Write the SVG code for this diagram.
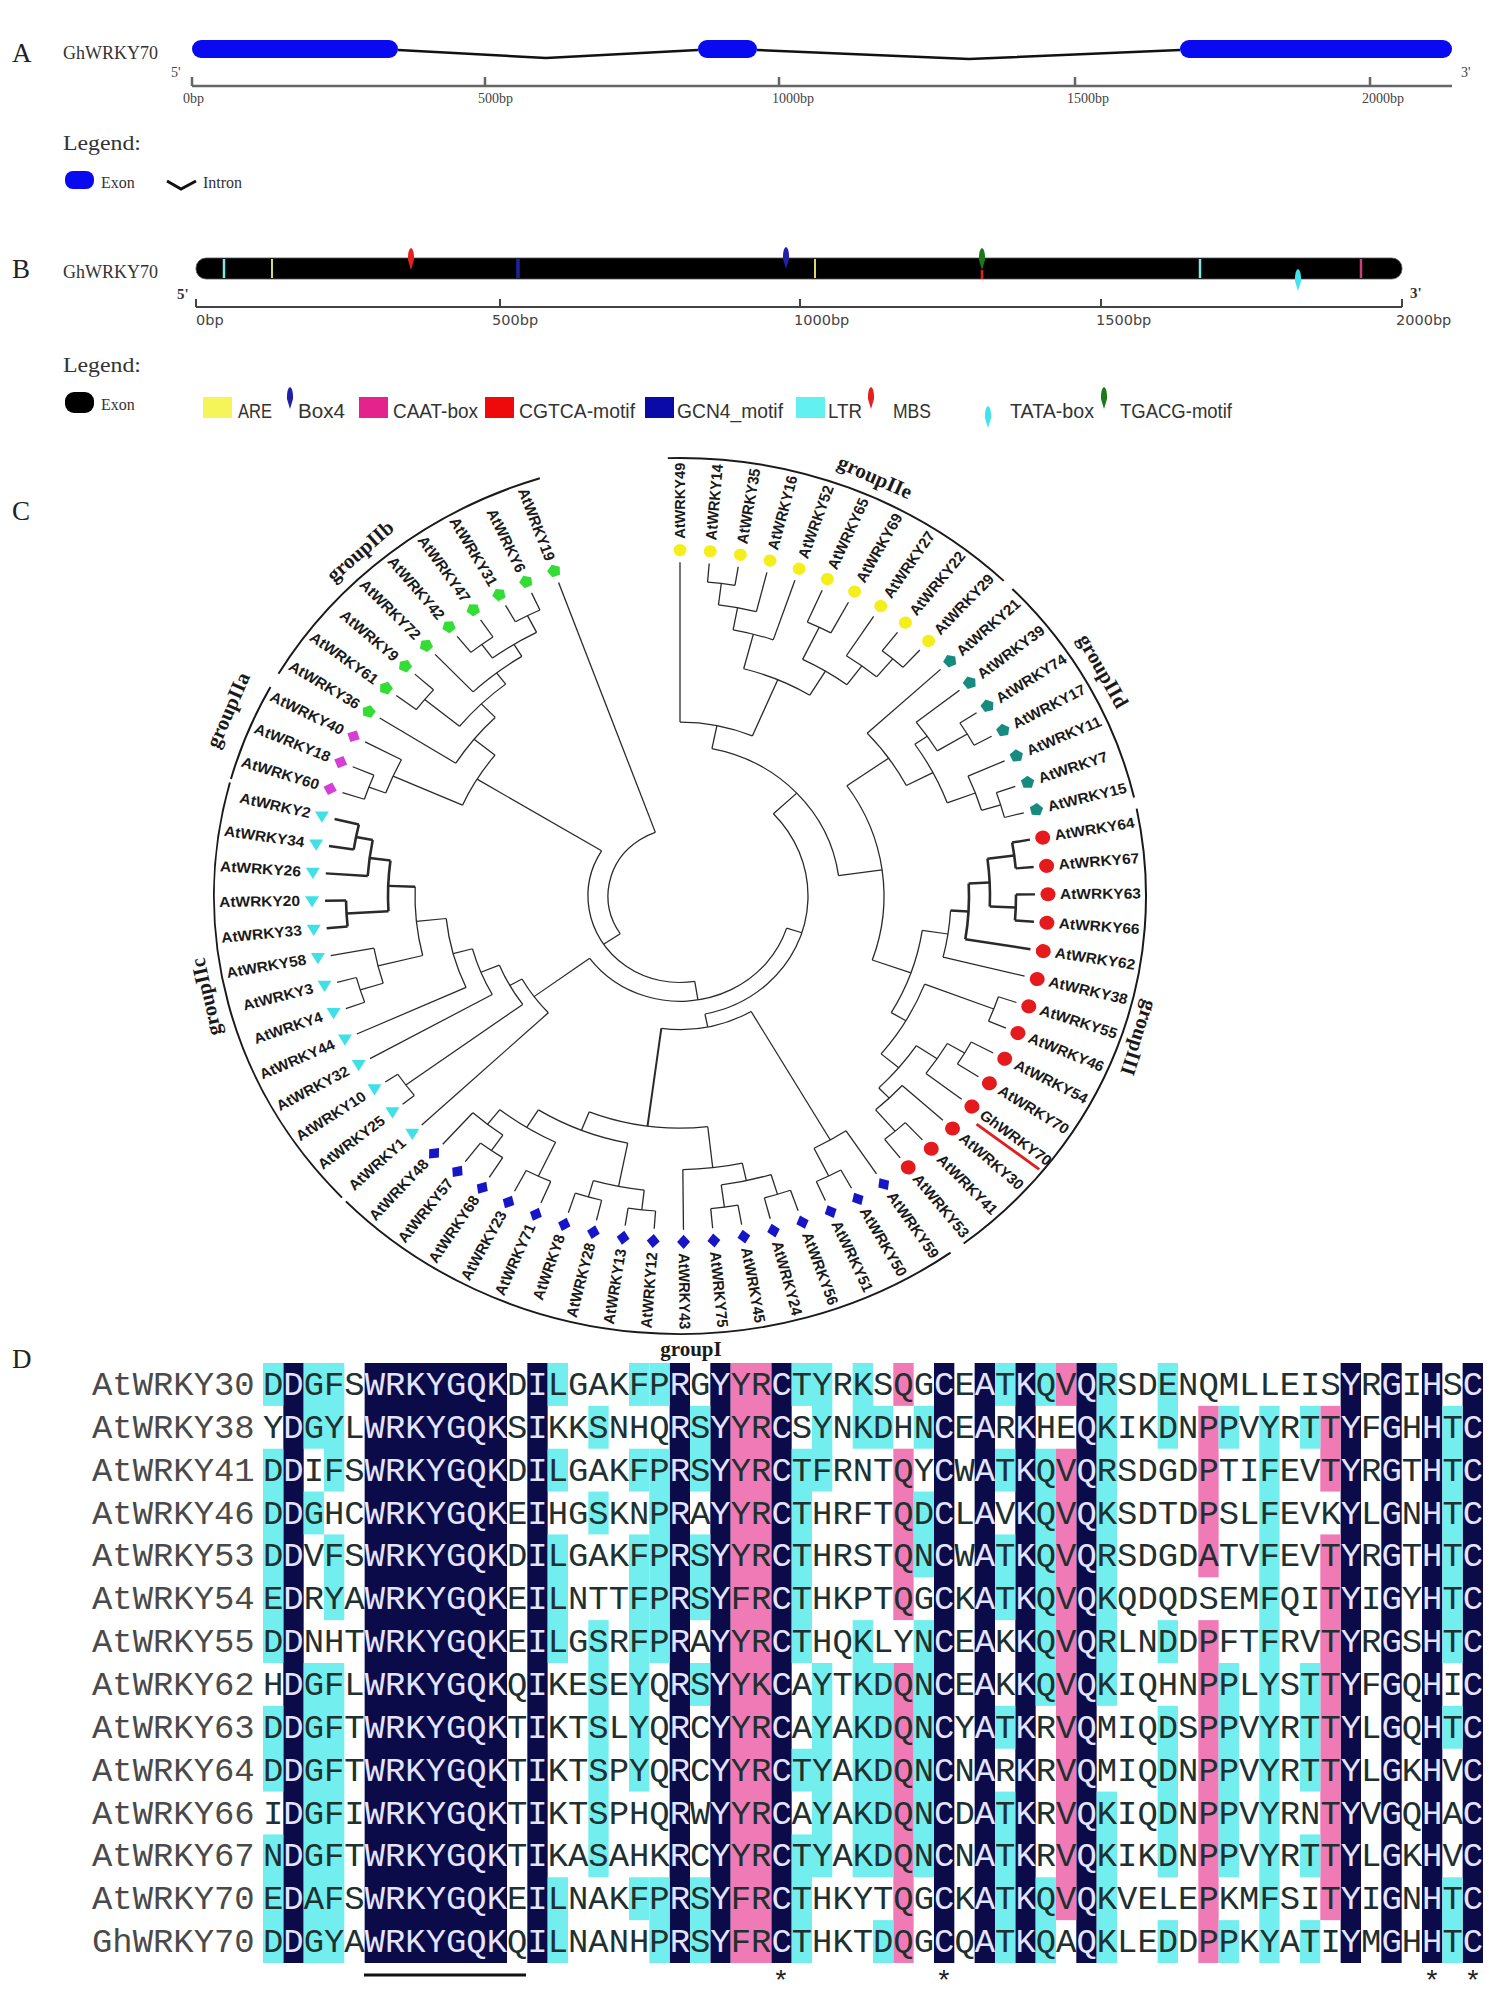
<svg xmlns="http://www.w3.org/2000/svg" width="1489" height="1998" viewBox="0 0 1489 1998">
<defs>
<style>
.pl{font-family:"Liberation Serif","Times New Roman",serif;font-size:27px;fill:#222}
.gn{font-family:"Liberation Serif","Times New Roman",serif;font-size:18px;fill:#333}
.tk{font-family:"Liberation Serif","Times New Roman",serif;font-size:14px;fill:#444}
.tkb{font-family:"DejaVu Sans",sans-serif;font-size:14.5px;fill:#444}
.pr{font-family:"Liberation Serif",serif;font-size:15px;font-weight:bold;fill:#333}
.lg{font-family:"Liberation Serif","Times New Roman",serif;font-size:22px;fill:#333}
.lgs{font-family:"Liberation Serif","Times New Roman",serif;font-size:16px;fill:#333}
.li{font-family:"Liberation Sans",Arial,sans-serif;font-size:20px;fill:#333}
.br{fill:none;stroke:#2a2a2a;stroke-width:1.3}
.bb{stroke-width:2.6}
.ga{fill:none;stroke:#1a1a1a;stroke-width:2}
.lf{font-family:"Liberation Sans",Arial,sans-serif;font-size:15.5px;font-weight:bold;fill:#1a1a1a}
.e{text-anchor:end}
.grp{font-family:"Liberation Serif","Times New Roman",serif;font-size:21px;font-weight:bold;fill:#1a1a1a;text-anchor:middle}
.sq{font-family:"Liberation Mono","Courier New",monospace;font-size:33.88px;fill:#203030}
.nm{font-family:"Liberation Mono","Courier New",monospace;font-size:33.88px;fill:#4a4a4a}
.w{fill:#e4e4ff}
.n{fill:#0b0b4a}.c{fill:#72eeee}.p{fill:#f07ab6}
.ex{fill:#0a0af0}
.ax{stroke:#666;stroke-width:2.5;fill:none}
</style>
<circle id="mY" r="6.5" fill="#f4ee1a"/>
<circle id="mR" r="7.5" fill="#e41a1c"/>
<path id="mB" d="M0-7.5L6.5 0L0 7.5L-6.5 0Z" fill="#1616c8"/>
<path id="mC" d="M-7-5H7L0 7Z" fill="#3fe0e6"/>
<path id="mG" d="M0-7L6.7-2.2L4.1 5.7H-4.1L-6.7-2.2Z" fill="#33dd33"/>
<path id="mT" d="M0-7L6.7-2.2L4.1 5.7H-4.1L-6.7-2.2Z" fill="#178b80"/>
<path id="mM" d="M0-7L7 0L0 7L-7 0Z" fill="#d43fd4"/>
<path id="dr" d="M0 0C2.8 1 3.2 8 3 12L0 22L-3 12C-3.2 8-2.8 1 0 0Z"/>
</defs>
<rect width="1489" height="1998" fill="#fff"/>

<g id="panelA">
<text class="pl" x="12" y="62">A</text>
<text class="gn" x="63" y="59">GhWRKY70</text>
<g id="exons-A">
<rect class="ex" x="192" y="40" width="206" height="18" rx="9"/>
<rect class="ex" x="698" y="40" width="59" height="18" rx="9"/>
<rect class="ex" x="1180" y="40" width="272" height="18" rx="9"/>
</g>
<g id="introns-A" fill="none" stroke="#111" stroke-width="2.5">
<polyline points="398,50 546,58 698,50"/>
<polyline points="757,50 969,59 1180,50"/>
</g>
<text class="tk" x="171" y="77">5'</text>
<text class="tk" x="1461" y="77">3'</text>
<path class="ax" d="M192 86H1452M192 77V86M485 77V86M779 77V86M1075 77V86M1370 77V86"/>
<text class="tk" x="183" y="103">0bp</text>
<text class="tk" x="478" y="103">500bp</text>
<text class="tk" x="772" y="103">1000bp</text>
<text class="tk" x="1067" y="103">1500bp</text>
<text class="tk" x="1362" y="103">2000bp</text>
<text class="lg" x="63" y="150" textLength="78" lengthAdjust="spacingAndGlyphs">Legend:</text>
<rect class="ex" x="65" y="171" width="29" height="18" rx="8"/>
<text class="lgs" x="101" y="188">Exon</text>
<path d="M167 181L181 189L196 181" fill="none" stroke="#111" stroke-width="3"/>
<text class="lgs" x="203" y="188">Intron</text>
</g>

<g id="panelB">
<text class="pl" x="12" y="278">B</text>
<text class="gn" x="63" y="278">GhWRKY70</text>
<rect x="196" y="258" width="1206" height="21" rx="10" fill="#000" stroke="#555" stroke-width="0.8"/>
<g id="motifs-B" stroke-width="2.5">
<path d="M224 259V278" stroke="#7fe5e5"/>
<path d="M272 259V278" stroke="#d8d870" stroke-width="2"/>
<path d="M518 259V278" stroke="#2020a0" stroke-width="3.5"/>
<path d="M815 259V278" stroke="#d8d870" stroke-width="2"/>
<path d="M982 270V279" stroke="#e02020"/>
<path d="M1200 259V278" stroke="#7fe5e5"/>
<path d="M1361 259V278" stroke="#c8407a"/>
<use href="#dr" x="411" y="248" fill="#e42020"/>
<use href="#dr" x="786" y="247" fill="#2020a8"/>
<use href="#dr" x="982" y="248" fill="#1a7a1a"/>
<use href="#dr" x="1298" y="269" fill="#40e4ea"/>
</g>
<text class="pr" x="177" y="299">5'</text>
<text class="pr" x="1410" y="298">3'</text>
<path d="M196 307H1402M196 299V307M500 299V307M800 299V307M1101 299V307M1402 299V307" stroke="#444" stroke-width="2" fill="none"/>
<text class="tkb" x="196" y="325">0bp</text>
<text class="tkb" x="492" y="325">500bp</text>
<text class="tkb" x="794" y="325">1000bp</text>
<text class="tkb" x="1096" y="325">1500bp</text>
<text class="tkb" x="1396" y="325">2000bp</text>
<text class="lg" x="63" y="372" textLength="78" lengthAdjust="spacingAndGlyphs">Legend:</text>
<rect x="65" y="392" width="29" height="21" rx="9" fill="#000"/>
<text class="lgs" x="101" y="410">Exon</text>
<g id="legend-B">
<rect x="203" y="397" width="29" height="21" fill="#f5f55a"/>
<text class="li" x="238" y="418" textLength="34" lengthAdjust="spacingAndGlyphs">ARE</text>
<use href="#dr" x="290" y="387" fill="#2020a8"/>
<text class="li" x="298" y="418" textLength="47" lengthAdjust="spacingAndGlyphs">Box4</text>
<rect x="359" y="397" width="29" height="21" fill="#e4248c"/>
<text class="li" x="393" y="418" textLength="85" lengthAdjust="spacingAndGlyphs">CAAT-box</text>
<rect x="485" y="397" width="29" height="21" fill="#ee0a0a"/>
<text class="li" x="519" y="418" textLength="116" lengthAdjust="spacingAndGlyphs">CGTCA-motif</text>
<rect x="645" y="397" width="29" height="21" fill="#0a0aa8"/>
<text class="li" x="677" y="418" textLength="106" lengthAdjust="spacingAndGlyphs">GCN4_motif</text>
<rect x="796" y="397" width="29" height="21" fill="#62f0f0"/>
<text class="li" x="828" y="418" textLength="34" lengthAdjust="spacingAndGlyphs">LTR</text>
<use href="#dr" x="871" y="387" fill="#e42020"/>
<text class="li" x="893" y="418" textLength="38" lengthAdjust="spacingAndGlyphs">MBS</text>
<use href="#dr" x="988" y="406" fill="#40e4ea"/>
<text class="li" x="1010" y="418" textLength="84" lengthAdjust="spacingAndGlyphs">TATA-box</text>
<use href="#dr" x="1104" y="387" fill="#1a7a1a"/>
<text class="li" x="1120" y="418" textLength="112" lengthAdjust="spacingAndGlyphs">TGACG-motif</text>
</g>
</g>

<g id="panelC">
<text class="pl" x="12" y="520">C</text>
<g id="tree" transform="translate(680 896) scale(1 0.94)">
<g id="connectors" class="br">
<circle r="335" pathLength="360" stroke-dasharray="4.72 999" transform="rotate(-85.28)"/>
<circle r="312" pathLength="360" stroke-dasharray="7.09 999" transform="rotate(-82.92)"/>
<circle r="288" pathLength="360" stroke-dasharray="8.26 999" transform="rotate(-79.37)"/>
<circle r="318" pathLength="360" stroke-dasharray="4.72 999" transform="rotate(-66.39)"/>
<circle r="330" pathLength="360" stroke-dasharray="4.72 999" transform="rotate(-52.22)"/>
<circle r="305" pathLength="360" stroke-dasharray="7.08 999" transform="rotate(-56.94)"/>
<circle r="280" pathLength="360" stroke-dasharray="10.63 999" transform="rotate(-64.03)"/>
<circle r="250" pathLength="360" stroke-dasharray="16.53 999" transform="rotate(-75.24)"/>
<circle r="185" pathLength="360" stroke-dasharray="23.02 999" transform="rotate(-90)"/>
<circle r="335" pathLength="360" stroke-dasharray="4.72 999" transform="rotate(-33.33)"/>
<circle r="300" pathLength="360" stroke-dasharray="7.09 999" transform="rotate(-38.06)"/>
<circle r="335" pathLength="360" stroke-dasharray="4.73 999" transform="rotate(-19.17)"/>
<circle r="315" pathLength="360" stroke-dasharray="7.08 999" transform="rotate(-23.89)"/>
<circle r="285" pathLength="360" stroke-dasharray="14.16 999" transform="rotate(-34.51)"/>
<circle r="255" pathLength="360" stroke-dasharray="15.35 999" transform="rotate(-42.78)"/>
<circle class="bb" r="337" pathLength="360" stroke-dasharray="4.72 999" transform="rotate(-9.72)"/>
<circle class="bb" r="336" pathLength="360" stroke-dasharray="4.72 999" transform="rotate(-0.28)"/>
<circle class="bb" r="310" pathLength="360" stroke-dasharray="9.44 999" transform="rotate(-7.36)"/>
<circle class="bb" r="289" pathLength="360" stroke-dasharray="11.81 999" transform="rotate(-2.64)"/>
<circle r="271" pathLength="360" stroke-dasharray="10.63 999" transform="rotate(3.26)"/>
<circle r="336" pathLength="360" stroke-dasharray="4.72 999" transform="rotate(18.61)"/>
<circle r="330" pathLength="360" stroke-dasharray="4.72 999" transform="rotate(28.06)"/>
<circle r="310" pathLength="360" stroke-dasharray="7.08 999" transform="rotate(30.42)"/>
<circle r="330" pathLength="360" stroke-dasharray="4.73 999" transform="rotate(46.94)"/>
<circle r="300" pathLength="360" stroke-dasharray="7.09 999" transform="rotate(42.22)"/>
<circle r="285" pathLength="360" stroke-dasharray="11.81 999" transform="rotate(33.96)"/>
<circle r="262" pathLength="360" stroke-dasharray="18.89 999" transform="rotate(20.97)"/>
<circle r="245" pathLength="360" stroke-dasharray="21.84 999" transform="rotate(8.58)"/>
<circle r="204" pathLength="360" stroke-dasharray="54.6 999" transform="rotate(-35.1)"/>
<circle r="160" pathLength="360" stroke-dasharray="70.69 999" transform="rotate(-78.49)"/>
<circle r="333" pathLength="360" stroke-dasharray="4.72 999" transform="rotate(61.11)"/>
<circle r="300" pathLength="360" stroke-dasharray="7.08 999" transform="rotate(56.39)"/>
<circle r="332" pathLength="360" stroke-dasharray="4.72 999" transform="rotate(70.56)"/>
<circle r="334" pathLength="360" stroke-dasharray="4.72 999" transform="rotate(80)"/>
<circle r="310" pathLength="360" stroke-dasharray="9.44 999" transform="rotate(72.92)"/>
<circle r="291" pathLength="360" stroke-dasharray="11.8 999" transform="rotate(77.64)"/>
<circle r="336" pathLength="360" stroke-dasharray="4.72 999" transform="rotate(94.17)"/>
<circle r="333" pathLength="360" stroke-dasharray="4.72 999" transform="rotate(103.61)"/>
<circle r="315" pathLength="360" stroke-dasharray="9.44 999" transform="rotate(96.53)"/>
<circle r="330" pathLength="360" stroke-dasharray="4.72 999" transform="rotate(113.06)"/>
<circle r="330" pathLength="360" stroke-dasharray="4.72 999" transform="rotate(122.5)"/>
<circle r="310" pathLength="360" stroke-dasharray="7.08 999" transform="rotate(124.86)"/>
<circle r="290" pathLength="360" stroke-dasharray="12.98 999" transform="rotate(115.42)"/>
<circle r="268" pathLength="360" stroke-dasharray="20.66 999" transform="rotate(101.25)"/>
<circle r="247" pathLength="360" stroke-dasharray="28.04 999" transform="rotate(83.54)"/>
<circle r="142" pathLength="360" stroke-dasharray="37.63 999" transform="rotate(59.93)"/>
<circle r="128" pathLength="360" stroke-dasharray="121.89 999" transform="rotate(-43.14)"/>
<circle r="335" pathLength="360" stroke-dasharray="4.72 999" transform="rotate(160.28)"/>
<circle r="311" pathLength="360" stroke-dasharray="7.08 999" transform="rotate(162.64)"/>
<circle class="bb" r="334" pathLength="360" stroke-dasharray="4.73 999" transform="rotate(174.44)"/>
<circle class="bb" r="330" pathLength="360" stroke-dasharray="4.72 999" transform="rotate(188.61)"/>
<circle class="bb" r="313" pathLength="360" stroke-dasharray="7.08 999" transform="rotate(183.89)"/>
<circle class="bb" r="292" pathLength="360" stroke-dasharray="10.62 999" transform="rotate(176.81)"/>
<circle r="265" pathLength="360" stroke-dasharray="15.94 999" transform="rotate(166.18)"/>
<circle r="235" pathLength="360" stroke-dasharray="18.59 999" transform="rotate(155.56)"/>
<circle r="215" pathLength="360" stroke-dasharray="14.03 999" transform="rotate(150.83)"/>
<circle r="340" pathLength="360" stroke-dasharray="4.72 999" transform="rotate(141.39)"/>
<circle r="195" pathLength="360" stroke-dasharray="14.1 999" transform="rotate(143.75)"/>
<circle r="181" pathLength="360" stroke-dasharray="14.13 999" transform="rotate(136.67)"/>
<circle r="112" pathLength="360" stroke-dasharray="125.94 999" transform="rotate(17.8)"/>
<circle r="332" pathLength="360" stroke-dasharray="4.72 999" transform="rotate(198.06)"/>
<circle r="314" pathLength="360" stroke-dasharray="7.08 999" transform="rotate(200.42)"/>
<circle r="335" pathLength="360" stroke-dasharray="4.72 999" transform="rotate(240.56)"/>
<circle r="333" pathLength="360" stroke-dasharray="4.72 999" transform="rotate(231.11)"/>
<circle r="315" pathLength="360" stroke-dasharray="9.45 999" transform="rotate(233.47)"/>
<circle r="300" pathLength="360" stroke-dasharray="11.8 999" transform="rotate(226.39)"/>
<circle r="330" pathLength="360" stroke-dasharray="4.73 999" transform="rotate(216.94)"/>
<circle r="285" pathLength="360" stroke-dasharray="12.98 999" transform="rotate(219.31)"/>
<circle r="265" pathLength="360" stroke-dasharray="13.58 999" transform="rotate(212.22)"/>
<circle r="238" pathLength="360" stroke-dasharray="15.05 999" transform="rotate(203.96)"/>
<circle r="92" pathLength="360" stroke-dasharray="130.72 999" transform="rotate(80.77)"/>
<circle r="72" pathLength="360" stroke-dasharray="103.87 999" transform="rotate(146.13)"/>
<path transform="rotate(7.08)" d="M0-312V-335"/>
<path transform="rotate(10.63)" d="M0-288V-312"/>
<path transform="rotate(14.76)" d="M0-250V-288"/>
<path transform="rotate(25.97)" d="M0-280V-318"/>
<path transform="rotate(40.14)" d="M0-305V-330"/>
<path transform="rotate(36.6)" d="M0-280V-305"/>
<path transform="rotate(31.29)" d="M0-250V-280"/>
<path transform="rotate(23.02)" d="M0-185V-250"/>
<path transform="rotate(11.51)" d="M0-160V-185"/>
<path transform="rotate(59.03)" d="M0-300V-335"/>
<path transform="rotate(55.49)" d="M0-285V-300"/>
<path transform="rotate(73.19)" d="M0-315V-335"/>
<path transform="rotate(69.65)" d="M0-285V-315"/>
<path transform="rotate(62.57)" d="M0-255V-285"/>
<path transform="rotate(54.9)" d="M0-204V-255"/>
<path class="bb" transform="rotate(82.64)" d="M0-310V-337"/>
<path class="bb" transform="rotate(92.08)" d="M0-310V-336"/>
<path class="bb" transform="rotate(87.36)" d="M0-289V-310"/>
<path class="bb" transform="rotate(93.26)" d="M0-271V-289"/>
<path transform="rotate(98.58)" d="M0-245V-271"/>
<path transform="rotate(110.97)" d="M0-262V-336"/>
<path transform="rotate(120.42)" d="M0-310V-330"/>
<path transform="rotate(123.96)" d="M0-285V-310"/>
<path transform="rotate(139.31)" d="M0-300V-330"/>
<path transform="rotate(135.77)" d="M0-285V-300"/>
<path transform="rotate(129.86)" d="M0-262V-285"/>
<path transform="rotate(120.42)" d="M0-245V-262"/>
<path transform="rotate(109.5)" d="M0-204V-245"/>
<path transform="rotate(82.2)" d="M0-160V-204"/>
<path transform="rotate(46.86)" d="M0-128V-160"/>
<path transform="rotate(153.47)" d="M0-300V-333"/>
<path transform="rotate(149.93)" d="M0-142V-300"/>
<path transform="rotate(162.92)" d="M0-310V-332"/>
<path transform="rotate(172.36)" d="M0-310V-334"/>
<path transform="rotate(167.64)" d="M0-291V-310"/>
<path transform="rotate(173.54)" d="M0-247V-291"/>
<path transform="rotate(186.53)" d="M0-315V-336"/>
<path transform="rotate(195.97)" d="M0-315V-333"/>
<path transform="rotate(191.25)" d="M0-268V-315"/>
<path transform="rotate(205.42)" d="M0-290V-330"/>
<path transform="rotate(214.86)" d="M0-310V-330"/>
<path transform="rotate(218.4)" d="M0-290V-310"/>
<path transform="rotate(211.91)" d="M0-268V-290"/>
<path transform="rotate(201.58)" d="M0-247V-268"/>
<path transform="rotate(187.56)" d="M0-142V-247" stroke-width="2"/>
<path transform="rotate(168.75)" d="M0-128V-142"/>
<path transform="rotate(107.8)" d="M0-112V-128"/>
<path transform="rotate(252.64)" d="M0-311V-335"/>
<path transform="rotate(256.18)" d="M0-265V-311"/>
<path class="bb" transform="rotate(266.81)" d="M0-292V-334"/>
<path class="bb" transform="rotate(280.97)" d="M0-313V-330"/>
<path class="bb" transform="rotate(277.43)" d="M0-292V-313"/>
<path class="bb" transform="rotate(272.12)" d="M0-265V-292"/>
<path transform="rotate(264.15)" d="M0-235V-265"/>
<path transform="rotate(254.86)" d="M0-215V-235"/>
<path transform="rotate(247.85)" d="M0-195V-215"/>
<path transform="rotate(233.75)" d="M0-195V-340"/>
<path transform="rotate(240.8)" d="M0-181V-195"/>
<path transform="rotate(233.74)" d="M0-112V-181"/>
<path transform="rotate(170.77)" d="M0-92V-112"/>
<path transform="rotate(290.42)" d="M0-314V-332"/>
<path transform="rotate(293.96)" d="M0-238V-314"/>
<path transform="rotate(332.92)" d="M0-315V-335"/>
<path transform="rotate(323.47)" d="M0-315V-333"/>
<path transform="rotate(328.19)" d="M0-300V-315"/>
<path transform="rotate(322.29)" d="M0-285V-300"/>
<path transform="rotate(309.31)" d="M0-285V-330"/>
<path transform="rotate(315.8)" d="M0-265V-285"/>
<path transform="rotate(309.01)" d="M0-238V-265"/>
<path transform="rotate(301.49)" d="M0-92V-238"/>
<path transform="rotate(236.13)" d="M0-72V-92"/>
<path transform="rotate(0)" d="M0-185V-355"/>
<path transform="rotate(4.72)" d="M0-335V-355"/>
<path transform="rotate(9.44)" d="M0-335V-355"/>
<path transform="rotate(14.17)" d="M0-312V-355"/>
<path transform="rotate(18.89)" d="M0-288V-355"/>
<path transform="rotate(23.61)" d="M0-318V-355"/>
<path transform="rotate(28.33)" d="M0-318V-355"/>
<path transform="rotate(33.06)" d="M0-305V-355"/>
<path transform="rotate(37.78)" d="M0-330V-355"/>
<path transform="rotate(42.5)" d="M0-330V-355"/>
<path transform="rotate(47.22)" d="M0-255V-355"/>
<path transform="rotate(51.94)" d="M0-300V-355"/>
<path transform="rotate(56.67)" d="M0-335V-355"/>
<path transform="rotate(61.39)" d="M0-335V-355"/>
<path transform="rotate(66.11)" d="M0-315V-355"/>
<path transform="rotate(70.83)" d="M0-335V-355"/>
<path transform="rotate(75.56)" d="M0-335V-355"/>
<path class="bb" transform="rotate(80.28)" d="M0-337V-355"/>
<path class="bb" transform="rotate(85)" d="M0-337V-355"/>
<path class="bb" transform="rotate(89.72)" d="M0-336V-355"/>
<path class="bb" transform="rotate(94.44)" d="M0-336V-355"/>
<path class="bb" transform="rotate(99.17)" d="M0-289V-355"/>
<path transform="rotate(103.89)" d="M0-271V-355"/>
<path transform="rotate(108.61)" d="M0-336V-355"/>
<path transform="rotate(113.33)" d="M0-336V-355"/>
<path transform="rotate(118.06)" d="M0-330V-355"/>
<path transform="rotate(122.78)" d="M0-330V-355"/>
<path transform="rotate(127.5)" d="M0-310V-355"/>
<path transform="rotate(132.22)" d="M0-300V-355"/>
<path transform="rotate(136.94)" d="M0-330V-355"/>
<path transform="rotate(141.67)" d="M0-330V-355"/>
<path transform="rotate(146.39)" d="M0-300V-355"/>
<path transform="rotate(151.11)" d="M0-333V-355"/>
<path transform="rotate(155.83)" d="M0-333V-355"/>
<path transform="rotate(160.56)" d="M0-332V-355"/>
<path transform="rotate(165.28)" d="M0-332V-355"/>
<path transform="rotate(170)" d="M0-334V-355"/>
<path transform="rotate(174.72)" d="M0-334V-355"/>
<path transform="rotate(179.44)" d="M0-291V-355"/>
<path transform="rotate(184.17)" d="M0-336V-355"/>
<path transform="rotate(188.89)" d="M0-336V-355"/>
<path transform="rotate(193.61)" d="M0-333V-355"/>
<path transform="rotate(198.33)" d="M0-333V-355"/>
<path transform="rotate(203.06)" d="M0-330V-355"/>
<path transform="rotate(207.78)" d="M0-330V-355"/>
<path transform="rotate(212.5)" d="M0-330V-355"/>
<path transform="rotate(217.22)" d="M0-330V-355"/>
<path transform="rotate(221.94)" d="M0-310V-355"/>
<path transform="rotate(226.67)" d="M0-181V-355"/>
<path transform="rotate(231.39)" d="M0-340V-355"/>
<path transform="rotate(236.11)" d="M0-340V-355"/>
<path transform="rotate(240.83)" d="M0-215V-355"/>
<path transform="rotate(245.56)" d="M0-235V-355"/>
<path transform="rotate(250.28)" d="M0-335V-355"/>
<path transform="rotate(255)" d="M0-335V-355"/>
<path transform="rotate(259.72)" d="M0-311V-355"/>
<path class="bb" transform="rotate(264.44)" d="M0-334V-355"/>
<path class="bb" transform="rotate(269.17)" d="M0-334V-355"/>
<path class="bb" transform="rotate(273.89)" d="M0-313V-355"/>
<path class="bb" transform="rotate(278.61)" d="M0-330V-355"/>
<path class="bb" transform="rotate(283.33)" d="M0-330V-355"/>
<path transform="rotate(288.06)" d="M0-332V-355"/>
<path transform="rotate(292.78)" d="M0-332V-355"/>
<path transform="rotate(297.5)" d="M0-314V-355"/>
<path transform="rotate(302.22)" d="M0-265V-355"/>
<path transform="rotate(306.94)" d="M0-330V-355"/>
<path transform="rotate(311.67)" d="M0-330V-355"/>
<path transform="rotate(316.39)" d="M0-300V-355"/>
<path transform="rotate(321.11)" d="M0-333V-355"/>
<path transform="rotate(325.83)" d="M0-333V-355"/>
<path transform="rotate(330.56)" d="M0-335V-355"/>
<path transform="rotate(335.28)" d="M0-335V-355"/>
<path transform="rotate(340)" d="M0-72V-355"/>
</g>
<g id="group-arcs" class="ga">
<circle r="466" pathLength="360" stroke-dasharray="45.5 999" transform="rotate(-91.5)"/>
<circle r="466" pathLength="360" stroke-dasharray="31.5 999" transform="rotate(-44.5)"/>
<circle r="466" pathLength="360" stroke-dasharray="64 999" transform="rotate(-11.5)"/>
<circle r="466" pathLength="360" stroke-dasharray="81.3 999" transform="rotate(54.5)"/>
<circle r="466" pathLength="360" stroke-dasharray="58.5 999" transform="rotate(136.5)"/>
<circle r="466" pathLength="360" stroke-dasharray="13 999" transform="rotate(195.5)"/>
<circle r="466" pathLength="360" stroke-dasharray="42 999" transform="rotate(210.5)"/>
</g>
<g id="leaves">
<g id="leaf-AtWRKY49" transform="rotate(0)"><use href="#mY" y="-368"/><text class="lf" transform="rotate(-90) translate(380 5)">AtWRKY49</text></g>
<g id="leaf-AtWRKY14" transform="rotate(4.72)"><use href="#mY" y="-368"/><text class="lf" transform="rotate(-90) translate(380 5)">AtWRKY14</text></g>
<g id="leaf-AtWRKY35" transform="rotate(9.44)"><use href="#mY" y="-368"/><text class="lf" transform="rotate(-90) translate(380 5)">AtWRKY35</text></g>
<g id="leaf-AtWRKY16" transform="rotate(14.17)"><use href="#mY" y="-368"/><text class="lf" transform="rotate(-90) translate(380 5)">AtWRKY16</text></g>
<g id="leaf-AtWRKY52" transform="rotate(18.89)"><use href="#mY" y="-368"/><text class="lf" transform="rotate(-90) translate(380 5)">AtWRKY52</text></g>
<g id="leaf-AtWRKY65" transform="rotate(23.61)"><use href="#mY" y="-368"/><text class="lf" transform="rotate(-90) translate(380 5)">AtWRKY65</text></g>
<g id="leaf-AtWRKY69" transform="rotate(28.33)"><use href="#mY" y="-368"/><text class="lf" transform="rotate(-90) translate(380 5)">AtWRKY69</text></g>
<g id="leaf-AtWRKY27" transform="rotate(33.06)"><use href="#mY" y="-368"/><text class="lf" transform="rotate(-90) translate(380 5)">AtWRKY27</text></g>
<g id="leaf-AtWRKY22" transform="rotate(37.78)"><use href="#mY" y="-368"/><text class="lf" transform="rotate(-90) translate(380 5)">AtWRKY22</text></g>
<g id="leaf-AtWRKY29" transform="rotate(42.5)"><use href="#mY" y="-368"/><text class="lf" transform="rotate(-90) translate(380 5)">AtWRKY29</text></g>
<g id="leaf-AtWRKY21" transform="rotate(47.22)"><use href="#mT" y="-368"/><text class="lf" transform="rotate(-90) translate(380 5)">AtWRKY21</text></g>
<g id="leaf-AtWRKY39" transform="rotate(51.94)"><use href="#mT" y="-368"/><text class="lf" transform="rotate(-90) translate(380 5)">AtWRKY39</text></g>
<g id="leaf-AtWRKY74" transform="rotate(56.67)"><use href="#mT" y="-368"/><text class="lf" transform="rotate(-90) translate(380 5)">AtWRKY74</text></g>
<g id="leaf-AtWRKY17" transform="rotate(61.39)"><use href="#mT" y="-368"/><text class="lf" transform="rotate(-90) translate(380 5)">AtWRKY17</text></g>
<g id="leaf-AtWRKY11" transform="rotate(66.11)"><use href="#mT" y="-368"/><text class="lf" transform="rotate(-90) translate(380 5)">AtWRKY11</text></g>
<g id="leaf-AtWRKY7" transform="rotate(70.83)"><use href="#mT" y="-368"/><text class="lf" transform="rotate(-90) translate(380 5)">AtWRKY7</text></g>
<g id="leaf-AtWRKY15" transform="rotate(75.56)"><use href="#mT" y="-368"/><text class="lf" transform="rotate(-90) translate(380 5)">AtWRKY15</text></g>
<g id="leaf-AtWRKY64" transform="rotate(80.28)"><use href="#mR" y="-368"/><text class="lf" transform="rotate(-90) translate(380 5)">AtWRKY64</text></g>
<g id="leaf-AtWRKY67" transform="rotate(85)"><use href="#mR" y="-368"/><text class="lf" transform="rotate(-90) translate(380 5)">AtWRKY67</text></g>
<g id="leaf-AtWRKY63" transform="rotate(89.72)"><use href="#mR" y="-368"/><text class="lf" transform="rotate(-90) translate(380 5)">AtWRKY63</text></g>
<g id="leaf-AtWRKY66" transform="rotate(94.44)"><use href="#mR" y="-368"/><text class="lf" transform="rotate(-90) translate(380 5)">AtWRKY66</text></g>
<g id="leaf-AtWRKY62" transform="rotate(99.17)"><use href="#mR" y="-368"/><text class="lf" transform="rotate(-90) translate(380 5)">AtWRKY62</text></g>
<g id="leaf-AtWRKY38" transform="rotate(103.89)"><use href="#mR" y="-368"/><text class="lf" transform="rotate(-90) translate(380 5)">AtWRKY38</text></g>
<g id="leaf-AtWRKY55" transform="rotate(108.61)"><use href="#mR" y="-368"/><text class="lf" transform="rotate(-90) translate(380 5)">AtWRKY55</text></g>
<g id="leaf-AtWRKY46" transform="rotate(113.33)"><use href="#mR" y="-368"/><text class="lf" transform="rotate(-90) translate(380 5)">AtWRKY46</text></g>
<g id="leaf-AtWRKY54" transform="rotate(118.06)"><use href="#mR" y="-368"/><text class="lf" transform="rotate(-90) translate(380 5)">AtWRKY54</text></g>
<g id="leaf-AtWRKY70" transform="rotate(122.78)"><use href="#mR" y="-368"/><text class="lf" transform="rotate(-90) translate(380 5)">AtWRKY70</text></g>
<g id="leaf-GhWRKY70" transform="rotate(127.5)"><use href="#mR" y="-368"/><text class="lf" transform="rotate(-90) translate(380 5)">GhWRKY70</text><path d="M12-383V-462" stroke="#e02020" stroke-width="3"/></g>
<g id="leaf-AtWRKY30" transform="rotate(132.22)"><use href="#mR" y="-368"/><text class="lf" transform="rotate(-90) translate(380 5)">AtWRKY30</text></g>
<g id="leaf-AtWRKY41" transform="rotate(136.94)"><use href="#mR" y="-368"/><text class="lf" transform="rotate(-90) translate(380 5)">AtWRKY41</text></g>
<g id="leaf-AtWRKY53" transform="rotate(141.67)"><use href="#mR" y="-368"/><text class="lf" transform="rotate(-90) translate(380 5)">AtWRKY53</text></g>
<g id="leaf-AtWRKY59" transform="rotate(146.39)"><use href="#mB" y="-368"/><text class="lf" transform="rotate(-90) translate(380 5)">AtWRKY59</text></g>
<g id="leaf-AtWRKY50" transform="rotate(151.11)"><use href="#mB" y="-368"/><text class="lf" transform="rotate(-90) translate(380 5)">AtWRKY50</text></g>
<g id="leaf-AtWRKY51" transform="rotate(155.83)"><use href="#mB" y="-368"/><text class="lf" transform="rotate(-90) translate(380 5)">AtWRKY51</text></g>
<g id="leaf-AtWRKY56" transform="rotate(160.56)"><use href="#mB" y="-368"/><text class="lf" transform="rotate(-90) translate(380 5)">AtWRKY56</text></g>
<g id="leaf-AtWRKY24" transform="rotate(165.28)"><use href="#mB" y="-368"/><text class="lf" transform="rotate(-90) translate(380 5)">AtWRKY24</text></g>
<g id="leaf-AtWRKY45" transform="rotate(170)"><use href="#mB" y="-368"/><text class="lf" transform="rotate(-90) translate(380 5)">AtWRKY45</text></g>
<g id="leaf-AtWRKY75" transform="rotate(174.72)"><use href="#mB" y="-368"/><text class="lf" transform="rotate(-90) translate(380 5)">AtWRKY75</text></g>
<g id="leaf-AtWRKY43" transform="rotate(179.44)"><use href="#mB" y="-368"/><text class="lf" transform="rotate(-90) translate(380 5)">AtWRKY43</text></g>
<g id="leaf-AtWRKY12" transform="rotate(184.17)"><use href="#mB" y="-368"/><text class="lf e" transform="rotate(90) translate(-380 5)">AtWRKY12</text></g>
<g id="leaf-AtWRKY13" transform="rotate(188.89)"><use href="#mB" y="-368"/><text class="lf e" transform="rotate(90) translate(-380 5)">AtWRKY13</text></g>
<g id="leaf-AtWRKY28" transform="rotate(193.61)"><use href="#mB" y="-368"/><text class="lf e" transform="rotate(90) translate(-380 5)">AtWRKY28</text></g>
<g id="leaf-AtWRKY8" transform="rotate(198.33)"><use href="#mB" y="-368"/><text class="lf e" transform="rotate(90) translate(-380 5)">AtWRKY8</text></g>
<g id="leaf-AtWRKY71" transform="rotate(203.06)"><use href="#mB" y="-368"/><text class="lf e" transform="rotate(90) translate(-380 5)">AtWRKY71</text></g>
<g id="leaf-AtWRKY23" transform="rotate(207.78)"><use href="#mB" y="-368"/><text class="lf e" transform="rotate(90) translate(-380 5)">AtWRKY23</text></g>
<g id="leaf-AtWRKY68" transform="rotate(212.5)"><use href="#mB" y="-368"/><text class="lf e" transform="rotate(90) translate(-380 5)">AtWRKY68</text></g>
<g id="leaf-AtWRKY57" transform="rotate(217.22)"><use href="#mB" y="-368"/><text class="lf e" transform="rotate(90) translate(-380 5)">AtWRKY57</text></g>
<g id="leaf-AtWRKY48" transform="rotate(221.94)"><use href="#mB" y="-368"/><text class="lf e" transform="rotate(90) translate(-380 5)">AtWRKY48</text></g>
<g id="leaf-AtWRKY1" transform="rotate(226.67)"><use href="#mC" transform="translate(0 -368) rotate(-226.67)"/><text class="lf e" transform="rotate(90) translate(-380 5)">AtWRKY1</text></g>
<g id="leaf-AtWRKY25" transform="rotate(231.39)"><use href="#mC" transform="translate(0 -368) rotate(-231.39)"/><text class="lf e" transform="rotate(90) translate(-380 5)">AtWRKY25</text></g>
<g id="leaf-AtWRKY10" transform="rotate(236.11)"><use href="#mC" transform="translate(0 -368) rotate(-236.11)"/><text class="lf e" transform="rotate(90) translate(-380 5)">AtWRKY10</text></g>
<g id="leaf-AtWRKY32" transform="rotate(240.83)"><use href="#mC" transform="translate(0 -368) rotate(-240.83)"/><text class="lf e" transform="rotate(90) translate(-380 5)">AtWRKY32</text></g>
<g id="leaf-AtWRKY44" transform="rotate(245.56)"><use href="#mC" transform="translate(0 -368) rotate(-245.56)"/><text class="lf e" transform="rotate(90) translate(-380 5)">AtWRKY44</text></g>
<g id="leaf-AtWRKY4" transform="rotate(250.28)"><use href="#mC" transform="translate(0 -368) rotate(-250.28)"/><text class="lf e" transform="rotate(90) translate(-380 5)">AtWRKY4</text></g>
<g id="leaf-AtWRKY3" transform="rotate(255)"><use href="#mC" transform="translate(0 -368) rotate(-255)"/><text class="lf e" transform="rotate(90) translate(-380 5)">AtWRKY3</text></g>
<g id="leaf-AtWRKY58" transform="rotate(259.72)"><use href="#mC" transform="translate(0 -368) rotate(-259.72)"/><text class="lf e" transform="rotate(90) translate(-380 5)">AtWRKY58</text></g>
<g id="leaf-AtWRKY33" transform="rotate(264.44)"><use href="#mC" transform="translate(0 -368) rotate(-264.44)"/><text class="lf e" transform="rotate(90) translate(-380 5)">AtWRKY33</text></g>
<g id="leaf-AtWRKY20" transform="rotate(269.17)"><use href="#mC" transform="translate(0 -368) rotate(-269.17)"/><text class="lf e" transform="rotate(90) translate(-380 5)">AtWRKY20</text></g>
<g id="leaf-AtWRKY26" transform="rotate(273.89)"><use href="#mC" transform="translate(0 -368) rotate(-273.89)"/><text class="lf e" transform="rotate(90) translate(-380 5)">AtWRKY26</text></g>
<g id="leaf-AtWRKY34" transform="rotate(278.61)"><use href="#mC" transform="translate(0 -368) rotate(-278.61)"/><text class="lf e" transform="rotate(90) translate(-380 5)">AtWRKY34</text></g>
<g id="leaf-AtWRKY2" transform="rotate(283.33)"><use href="#mC" transform="translate(0 -368) rotate(-283.33)"/><text class="lf e" transform="rotate(90) translate(-380 5)">AtWRKY2</text></g>
<g id="leaf-AtWRKY60" transform="rotate(288.06)"><use href="#mM" y="-368"/><text class="lf e" transform="rotate(90) translate(-380 5)">AtWRKY60</text></g>
<g id="leaf-AtWRKY18" transform="rotate(292.78)"><use href="#mM" y="-368"/><text class="lf e" transform="rotate(90) translate(-380 5)">AtWRKY18</text></g>
<g id="leaf-AtWRKY40" transform="rotate(297.5)"><use href="#mM" y="-368"/><text class="lf e" transform="rotate(90) translate(-380 5)">AtWRKY40</text></g>
<g id="leaf-AtWRKY36" transform="rotate(302.22)"><use href="#mG" y="-368"/><text class="lf e" transform="rotate(90) translate(-380 5)">AtWRKY36</text></g>
<g id="leaf-AtWRKY61" transform="rotate(306.94)"><use href="#mG" y="-368"/><text class="lf e" transform="rotate(90) translate(-380 5)">AtWRKY61</text></g>
<g id="leaf-AtWRKY9" transform="rotate(311.67)"><use href="#mG" y="-368"/><text class="lf e" transform="rotate(90) translate(-380 5)">AtWRKY9</text></g>
<g id="leaf-AtWRKY72" transform="rotate(316.39)"><use href="#mG" y="-368"/><text class="lf e" transform="rotate(90) translate(-380 5)">AtWRKY72</text></g>
<g id="leaf-AtWRKY42" transform="rotate(321.11)"><use href="#mG" y="-368"/><text class="lf e" transform="rotate(90) translate(-380 5)">AtWRKY42</text></g>
<g id="leaf-AtWRKY47" transform="rotate(325.83)"><use href="#mG" y="-368"/><text class="lf e" transform="rotate(90) translate(-380 5)">AtWRKY47</text></g>
<g id="leaf-AtWRKY31" transform="rotate(330.56)"><use href="#mG" y="-368"/><text class="lf e" transform="rotate(90) translate(-380 5)">AtWRKY31</text></g>
<g id="leaf-AtWRKY6" transform="rotate(335.28)"><use href="#mG" y="-368"/><text class="lf e" transform="rotate(90) translate(-380 5)">AtWRKY6</text></g>
<g id="leaf-AtWRKY19" transform="rotate(340)"><use href="#mG" y="-368"/><text class="lf e" transform="rotate(90) translate(-380 5)">AtWRKY19</text></g>
</g>
</g>
<g id="group-labels">
<text class="grp" dy="7" transform="translate(875 477) rotate(24)">groupIIe</text>
<text class="grp" dy="7" transform="translate(1103 671) rotate(60.5)">groupIId</text>
<text class="grp" dy="7" transform="translate(1139 1038) rotate(108)">groupIII</text>
<text class="grp" x="691" y="1356">groupI</text>
<text class="grp" dy="7" transform="translate(206 997) rotate(-102.7)">groupIIc</text>
<text class="grp" dy="7" transform="translate(228 710) rotate(-66.3)">groupIIa</text>
<text class="grp" dy="7" transform="translate(360 551) rotate(-41)">groupIIb</text>
</g>
</g>

<g id="panelD">
<text class="pl" x="12" y="1368">D</text>
<g id="shading" transform="translate(263 1363) scale(20.333 42.857)">
<g class="n">
<rect x="1" width="1" height="14"/><rect x="5" width="7" height="14"/><rect x="13" width="1" height="14"/><rect x="20" width="1" height="14"/><rect x="22" width="1" height="14"/><rect x="25" width="1" height="14"/><rect x="33" width="1" height="14"/><rect x="35" width="1" height="14"/><rect x="37" width="1" height="14"/><rect x="40" width="1" height="14"/><rect x="53" width="1" height="14"/><rect x="55" width="1" height="14"/><rect x="57" width="1" height="14"/><rect x="59" width="1" height="14"/>
</g>
<g class="p">
<rect x="23" width="2" height="14"/>
<rect x="31" y="0" width="1" height="1"/><rect x="31" y="2" width="1" height="4"/><rect x="31" y="7" width="1" height="7"/>
<rect x="39" y="0" width="1" height="1"/><rect x="39" y="2" width="1" height="11"/>
<rect x="46" y="1" width="1" height="4"/><rect x="46" y="6" width="1" height="8"/>
<rect x="52" y="1" width="1" height="2"/><rect x="52" y="4" width="1" height="9"/>
</g>
<g class="c">
<rect x="0" y="0" width="1" height="1"/><rect x="0" y="2" width="1" height="5"/><rect x="0" y="8" width="1" height="2"/><rect x="0" y="11" width="1" height="3"/>
<rect x="2" y="0" width="1" height="2"/><rect x="2" y="3" width="1" height="1"/><rect x="2" y="7" width="1" height="7"/>
<rect x="3" y="0" width="1" height="3"/><rect x="3" y="4" width="1" height="2"/><rect x="3" y="7" width="1" height="7"/>
<rect x="14" y="0" width="1" height="1"/><rect x="14" y="2" width="1" height="1"/><rect x="14" y="4" width="1" height="3"/><rect x="14" y="12" width="1" height="2"/>
<rect x="16" y="1" width="1" height="1"/><rect x="16" y="3" width="1" height="1"/><rect x="16" y="6" width="1" height="6"/>
<rect x="18" y="0" width="1" height="1"/><rect x="18" y="2" width="1" height="1"/><rect x="18" y="4" width="1" height="6"/><rect x="18" y="12" width="1" height="1"/>
<rect x="19" y="0" width="1" height="1"/><rect x="19" y="2" width="1" height="5"/><rect x="19" y="12" width="1" height="2"/>
<rect x="21" y="1" width="1" height="2"/><rect x="21" y="4" width="1" height="2"/><rect x="21" y="7" width="1" height="1"/><rect x="21" y="12" width="1" height="2"/>
<rect x="26" y="0" width="1" height="1"/><rect x="26" y="2" width="1" height="5"/><rect x="26" y="9" width="1" height="1"/><rect x="26" y="11" width="1" height="3"/>
<rect x="27" y="0" width="1" height="3"/><rect x="27" y="7" width="1" height="5"/>
<rect x="29" y="0" width="1" height="2"/><rect x="29" y="6" width="1" height="6"/>
<rect x="30" y="1" width="1" height="1"/><rect x="30" y="7" width="1" height="5"/><rect x="30" y="13" width="1" height="1"/>
<rect x="32" y="1" width="1" height="1"/><rect x="32" y="3" width="1" height="2"/><rect x="32" y="6" width="1" height="6"/>
<rect x="36" y="0" width="1" height="1"/><rect x="36" y="2" width="1" height="1"/><rect x="36" y="4" width="1" height="2"/><rect x="36" y="8" width="1" height="1"/><rect x="36" y="10" width="1" height="4"/>
<rect x="38" y="0" width="1" height="1"/><rect x="38" y="2" width="1" height="6"/><rect x="38" y="12" width="1" height="2"/>
<rect x="41" y="0" width="1" height="8"/><rect x="41" y="10" width="1" height="4"/>
<rect x="44" y="0" width="1" height="2"/><rect x="44" y="6" width="1" height="1"/><rect x="44" y="8" width="1" height="4"/><rect x="44" y="13" width="1" height="1"/>
<rect x="47" y="1" width="1" height="1"/><rect x="47" y="7" width="1" height="5"/><rect x="47" y="13" width="1" height="1"/>
<rect x="49" y="1" width="1" height="13"/>
<rect x="51" y="1" width="1" height="1"/><rect x="51" y="7" width="1" height="3"/><rect x="51" y="11" width="1" height="1"/><rect x="51" y="13" width="1" height="1"/>
<rect x="58" y="1" width="1" height="6"/><rect x="58" y="8" width="1" height="1"/><rect x="58" y="12" width="1" height="2"/>
</g>
</g>
<g id="names">
<text class="nm" x="92" y="1395">AtWRKY30</text>
<text class="nm" x="92" y="1437.9">AtWRKY38</text>
<text class="nm" x="92" y="1480.7">AtWRKY41</text>
<text class="nm" x="92" y="1523.6">AtWRKY46</text>
<text class="nm" x="92" y="1566.4">AtWRKY53</text>
<text class="nm" x="92" y="1609.3">AtWRKY54</text>
<text class="nm" x="92" y="1652.1">AtWRKY55</text>
<text class="nm" x="92" y="1695">AtWRKY62</text>
<text class="nm" x="92" y="1737.9">AtWRKY63</text>
<text class="nm" x="92" y="1780.7">AtWRKY64</text>
<text class="nm" x="92" y="1823.6">AtWRKY66</text>
<text class="nm" x="92" y="1866.4">AtWRKY67</text>
<text class="nm" x="92" y="1909.3">AtWRKY70</text>
<text class="nm" x="92" y="1952.1">GhWRKY70</text>
</g>
<g id="sequences">
<text class="sq" x="263" y="1395">D<tspan class="w">D</tspan>GFS<tspan class="w">WRKYGQK</tspan>D<tspan class="w">I</tspan>LGAKFP<tspan class="w">R</tspan>G<tspan class="w">Y</tspan>YR<tspan class="w">C</tspan>TYRKSQG<tspan class="w">C</tspan>E<tspan class="w">A</tspan>T<tspan class="w">K</tspan>QV<tspan class="w">Q</tspan>RSDENQMLLEIS<tspan class="w">Y</tspan>R<tspan class="w">G</tspan>I<tspan class="w">H</tspan>S<tspan class="w">C</tspan></text>
<text class="sq" x="263" y="1437.9">Y<tspan class="w">D</tspan>GYL<tspan class="w">WRKYGQK</tspan>S<tspan class="w">I</tspan>KKSNHQ<tspan class="w">R</tspan>S<tspan class="w">Y</tspan>YR<tspan class="w">C</tspan>SYNKDHN<tspan class="w">C</tspan>E<tspan class="w">A</tspan>R<tspan class="w">K</tspan>HE<tspan class="w">Q</tspan>KIKDNPPVYRTT<tspan class="w">Y</tspan>F<tspan class="w">G</tspan>H<tspan class="w">H</tspan>T<tspan class="w">C</tspan></text>
<text class="sq" x="263" y="1480.7">D<tspan class="w">D</tspan>IFS<tspan class="w">WRKYGQK</tspan>D<tspan class="w">I</tspan>LGAKFP<tspan class="w">R</tspan>S<tspan class="w">Y</tspan>YR<tspan class="w">C</tspan>TFRNTQY<tspan class="w">C</tspan>W<tspan class="w">A</tspan>T<tspan class="w">K</tspan>QV<tspan class="w">Q</tspan>RSDGDPTIFEVT<tspan class="w">Y</tspan>R<tspan class="w">G</tspan>T<tspan class="w">H</tspan>T<tspan class="w">C</tspan></text>
<text class="sq" x="263" y="1523.6">D<tspan class="w">D</tspan>GHC<tspan class="w">WRKYGQK</tspan>E<tspan class="w">I</tspan>HGSKNP<tspan class="w">R</tspan>A<tspan class="w">Y</tspan>YR<tspan class="w">C</tspan>THRFTQD<tspan class="w">C</tspan>L<tspan class="w">A</tspan>V<tspan class="w">K</tspan>QV<tspan class="w">Q</tspan>KSDTDPSLFEVK<tspan class="w">Y</tspan>L<tspan class="w">G</tspan>N<tspan class="w">H</tspan>T<tspan class="w">C</tspan></text>
<text class="sq" x="263" y="1566.4">D<tspan class="w">D</tspan>VFS<tspan class="w">WRKYGQK</tspan>D<tspan class="w">I</tspan>LGAKFP<tspan class="w">R</tspan>S<tspan class="w">Y</tspan>YR<tspan class="w">C</tspan>THRSTQN<tspan class="w">C</tspan>W<tspan class="w">A</tspan>T<tspan class="w">K</tspan>QV<tspan class="w">Q</tspan>RSDGDATVFEVT<tspan class="w">Y</tspan>R<tspan class="w">G</tspan>T<tspan class="w">H</tspan>T<tspan class="w">C</tspan></text>
<text class="sq" x="263" y="1609.3">E<tspan class="w">D</tspan>RYA<tspan class="w">WRKYGQK</tspan>E<tspan class="w">I</tspan>LNTTFP<tspan class="w">R</tspan>S<tspan class="w">Y</tspan>FR<tspan class="w">C</tspan>THKPTQG<tspan class="w">C</tspan>K<tspan class="w">A</tspan>T<tspan class="w">K</tspan>QV<tspan class="w">Q</tspan>KQDQDSEMFQIT<tspan class="w">Y</tspan>I<tspan class="w">G</tspan>Y<tspan class="w">H</tspan>T<tspan class="w">C</tspan></text>
<text class="sq" x="263" y="1652.1">D<tspan class="w">D</tspan>NHT<tspan class="w">WRKYGQK</tspan>E<tspan class="w">I</tspan>LGSRFP<tspan class="w">R</tspan>A<tspan class="w">Y</tspan>YR<tspan class="w">C</tspan>THQKLYN<tspan class="w">C</tspan>E<tspan class="w">A</tspan>K<tspan class="w">K</tspan>QV<tspan class="w">Q</tspan>RLNDDPFTFRVT<tspan class="w">Y</tspan>R<tspan class="w">G</tspan>S<tspan class="w">H</tspan>T<tspan class="w">C</tspan></text>
<text class="sq" x="263" y="1695">H<tspan class="w">D</tspan>GFL<tspan class="w">WRKYGQK</tspan>Q<tspan class="w">I</tspan>KESEYQ<tspan class="w">R</tspan>S<tspan class="w">Y</tspan>YK<tspan class="w">C</tspan>AYTKDQN<tspan class="w">C</tspan>E<tspan class="w">A</tspan>K<tspan class="w">K</tspan>QV<tspan class="w">Q</tspan>KIQHNPPLYSTT<tspan class="w">Y</tspan>F<tspan class="w">G</tspan>Q<tspan class="w">H</tspan>I<tspan class="w">C</tspan></text>
<text class="sq" x="263" y="1737.9">D<tspan class="w">D</tspan>GFT<tspan class="w">WRKYGQK</tspan>T<tspan class="w">I</tspan>KTSLYQ<tspan class="w">R</tspan>C<tspan class="w">Y</tspan>YR<tspan class="w">C</tspan>AYAKDQN<tspan class="w">C</tspan>Y<tspan class="w">A</tspan>T<tspan class="w">K</tspan>RV<tspan class="w">Q</tspan>MIQDSPPVYRTT<tspan class="w">Y</tspan>L<tspan class="w">G</tspan>Q<tspan class="w">H</tspan>T<tspan class="w">C</tspan></text>
<text class="sq" x="263" y="1780.7">D<tspan class="w">D</tspan>GFT<tspan class="w">WRKYGQK</tspan>T<tspan class="w">I</tspan>KTSPYQ<tspan class="w">R</tspan>C<tspan class="w">Y</tspan>YR<tspan class="w">C</tspan>TYAKDQN<tspan class="w">C</tspan>N<tspan class="w">A</tspan>R<tspan class="w">K</tspan>RV<tspan class="w">Q</tspan>MIQDNPPVYRTT<tspan class="w">Y</tspan>L<tspan class="w">G</tspan>K<tspan class="w">H</tspan>V<tspan class="w">C</tspan></text>
<text class="sq" x="263" y="1823.6">I<tspan class="w">D</tspan>GFI<tspan class="w">WRKYGQK</tspan>T<tspan class="w">I</tspan>KTSPHQ<tspan class="w">R</tspan>W<tspan class="w">Y</tspan>YR<tspan class="w">C</tspan>AYAKDQN<tspan class="w">C</tspan>D<tspan class="w">A</tspan>T<tspan class="w">K</tspan>RV<tspan class="w">Q</tspan>KIQDNPPVYRNT<tspan class="w">Y</tspan>V<tspan class="w">G</tspan>Q<tspan class="w">H</tspan>A<tspan class="w">C</tspan></text>
<text class="sq" x="263" y="1866.4">N<tspan class="w">D</tspan>GFT<tspan class="w">WRKYGQK</tspan>T<tspan class="w">I</tspan>KASAHK<tspan class="w">R</tspan>C<tspan class="w">Y</tspan>YR<tspan class="w">C</tspan>TYAKDQN<tspan class="w">C</tspan>N<tspan class="w">A</tspan>T<tspan class="w">K</tspan>RV<tspan class="w">Q</tspan>KIKDNPPVYRTT<tspan class="w">Y</tspan>L<tspan class="w">G</tspan>K<tspan class="w">H</tspan>V<tspan class="w">C</tspan></text>
<text class="sq" x="263" y="1909.3">E<tspan class="w">D</tspan>AFS<tspan class="w">WRKYGQK</tspan>E<tspan class="w">I</tspan>LNAKFP<tspan class="w">R</tspan>S<tspan class="w">Y</tspan>FR<tspan class="w">C</tspan>THKYTQG<tspan class="w">C</tspan>K<tspan class="w">A</tspan>T<tspan class="w">K</tspan>QV<tspan class="w">Q</tspan>KVELEPKMFSIT<tspan class="w">Y</tspan>I<tspan class="w">G</tspan>N<tspan class="w">H</tspan>T<tspan class="w">C</tspan></text>
<text class="sq" x="263" y="1952.1">D<tspan class="w">D</tspan>GYA<tspan class="w">WRKYGQK</tspan>Q<tspan class="w">I</tspan>LNANHP<tspan class="w">R</tspan>S<tspan class="w">Y</tspan>FR<tspan class="w">C</tspan>THKTDQG<tspan class="w">C</tspan>Q<tspan class="w">A</tspan>T<tspan class="w">K</tspan>QA<tspan class="w">Q</tspan>KLEDDPPKYATI<tspan class="w">Y</tspan>M<tspan class="w">G</tspan>H<tspan class="w">H</tspan>T<tspan class="w">C</tspan></text>
</g>
<path d="M364 1975H526" stroke="#111" stroke-width="3"/>
<g id="asterisks" class="sq" style="font-size:28px;fill:#222" text-anchor="middle">
<text x="781" y="1990">*</text>
<text x="944" y="1990">*</text>
<text x="1432" y="1990">*</text>
<text x="1473" y="1990">*</text>
</g>
</g>
</svg>
